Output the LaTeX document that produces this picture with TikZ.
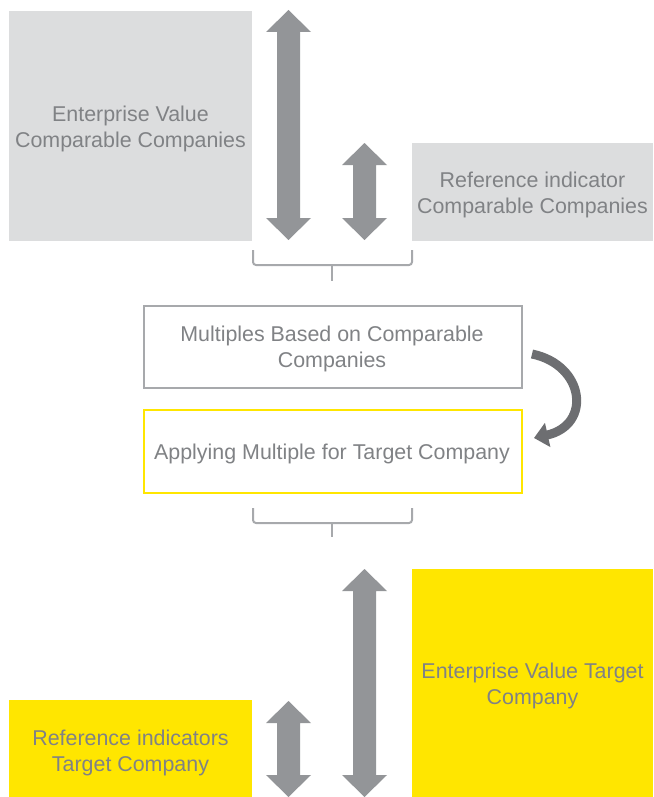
\documentclass[tikz,border=0pt]{standalone}
\usepackage{fontspec}
\setmainfont{Liberation Sans}
\usetikzlibrary{arrows.meta}
\definecolor{boxgrey}{HTML}{DCDDDE}
\definecolor{txtgrey}{HTML}{808285}
\definecolor{arrgrey}{HTML}{939598}
\definecolor{curvegrey}{HTML}{6D6E71}
\definecolor{linegrey}{HTML}{A7A9AC}
\definecolor{eyyellow}{HTML}{FFE600}
\newcommand{\dblarrow}[3]{% center x, top y, bottom y
  \fill[arrgrey] (#1,#2) -- ({#1+22.5},{#2+22}) -- ({#1+11.5},{#2+22}) -- ({#1+11.5},{#3-22}) -- ({#1+22.5},{#3-22}) -- (#1,#3) -- ({#1-22.5},{#3-22}) -- ({#1-11.5},{#3-22}) -- ({#1-11.5},{#2+22}) -- ({#1-22.5},{#2+22}) -- cycle;}
\begin{document}
\begin{tikzpicture}[x=1pt,y=-1pt,
  every node/.style={font=\fontsize{21.4}{26}\selectfont, text=txtgrey, align=center, inner sep=0pt},
  greybox/.style={fill=boxgrey, anchor=north west},
  yelbox/.style={fill=eyyellow, anchor=north west},
  framebox/.style={draw=linegrey, line width=1.5pt, fill=white, anchor=north west},
  yframebox/.style={draw=eyyellow, line width=1.5pt, fill=white, anchor=north west},
  bracket/.style={draw=linegrey, line width=2pt, rounded corners=3pt}]
\useasboundingbox (0,0) rectangle (653,797);
% top boxes
\node[greybox, minimum width=243pt, minimum height=230pt] (evc) at (9,11) {};
\node at (130.5,129) {Enterprise Value\\Comparable Companies};
\node[greybox, minimum width=241pt, minimum height=98pt] (ric) at (412,143) {};
\node at (532.5,195) {Reference indicator\\Comparable Companies};
% arrows top
\dblarrow{288.5}{10}{240}
\dblarrow{364.5}{143}{240}
% bracket top
\coordinate (b1l) at (253,250);
\coordinate (b1r) at (412,250);
\coordinate (b1m) at (332,265);
\coordinate (b1s) at (332,281);
\draw[bracket] (b1l) -- (253,265) -- (412,265) -- (b1r);
\draw[bracket] (b1m) -- (b1s);
% middle boxes
\node[framebox, minimum width=378pt, minimum height=82pt] (mult) at (143,305) {};
\node at (332,349) {Multiples Based on Comparable\\Companies};
\node[yframebox, minimum width=378pt, minimum height=83pt] (apply) at (143,409) {};
\node at (332,454) {Applying Multiple for Target Company};
% curved arrow
\coordinate (cs) at (532,354);
\coordinate (ce) at (534,438);
\draw[curvegrey, line width=9pt, -{Triangle[length=14pt,width=24pt]}] (cs) .. controls (585,365) and (592,425) .. (ce);
% bracket bottom
\coordinate (b2l) at (253,508);
\coordinate (b2r) at (412,508);
\coordinate (b2m) at (332,523);
\coordinate (b2s) at (332,537);
\draw[bracket] (b2l) -- (253,523) -- (412,523) -- (b2r);
\draw[bracket] (b2m) -- (b2s);
% bottom boxes
\node[yelbox, minimum width=241pt, minimum height=228pt] (evt) at (412,569) {};
\node at (532.5,686) {Enterprise Value Target\\Company};
\node[yelbox, minimum width=243pt, minimum height=97pt] (rit) at (9,700) {};
\node at (130.5,753) {Reference indicators\\Target Company};
% arrows bottom
\dblarrow{364.5}{569}{797}
\dblarrow{288.5}{701}{797}
\end{tikzpicture}
\end{document}
